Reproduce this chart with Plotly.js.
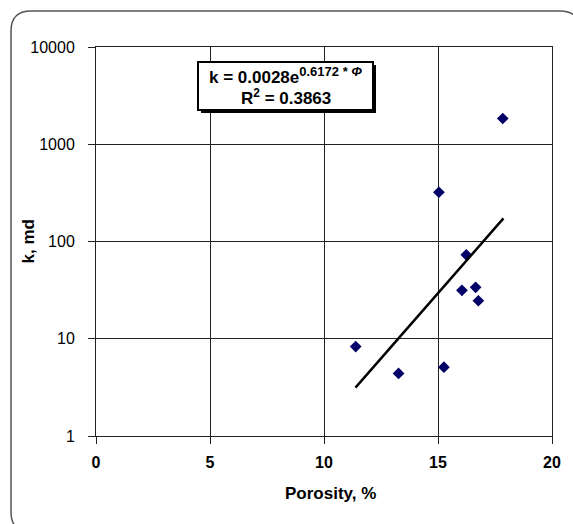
<!DOCTYPE html>
<html>
<head>
<meta charset="utf-8">
<script src="https://cdn.plot.ly/plotly-3.0.1.min.js"></script>
<style>html,body{margin:0;padding:0;background:#fff;}#chart{width:573px;height:524px;}</style>
</head>
<body>
<div id="chart"></div>
<script>
// Data
const porosity = [17.84, 15.04, 16.24, 16.05, 16.65, 16.77, 11.39, 13.27, 15.26];
const permeability = [1840, 321, 73, 31.5, 33.8, 24.6, 8.3, 4.4, 5.1];
const trendX = [11.38, 17.87];
const trendY = [3.14, 173];
const xTicks = [0, 5, 10, 15, 20];
const yTicks = [1, 10, 100, 1000, 10000];
const yTickText = ['1', '10', '100', '1000', '10000'];
const xTitle = 'Porosity, %';
const yTitle = 'k, md';
const eqLine1 = 'k = 0.0028e<sup><span style="font-size:13px">0.6172 * <i>Φ</i></span></sup>';
const eqLine2 = 'R<sup>2</sup> = 0.3863';

const W = 573, H = 524;
const M = {l: 96, r: 21, t: 47, b: 88};
const PW = W - M.l - M.r, PH = H - M.t - M.b;
const px = X => (X - M.l) / PW;
const py = Y => (H - M.b - Y) / PH;

function roundRectPath(x0, y0, x1, y1, r) {
  const P = (X, Y) => px(X) + ',' + py(Y);
  return 'M' + P(x0 + r, y0) + ' L' + P(x1 - r, y0) +
    ' Q' + P(x1, y0) + ' ' + P(x1, y0 + r) +
    ' L' + P(x1, y1 - r) + ' Q' + P(x1, y1) + ' ' + P(x1 - r, y1) +
    ' L' + P(x0 + r, y1) + ' Q' + P(x0, y1) + ' ' + P(x0, y1 - r) +
    ' L' + P(x0, y0 + r) + ' Q' + P(x0, y0) + ' ' + P(x0 + r, y0) + ' Z';
}

const font = 'Arial, "Liberation Sans", sans-serif';

const traces = [
  {
    x: porosity, y: permeability, type: 'scatter', mode: 'markers',
    marker: {symbol: 'diamond', size: 9, color: '#000066'},
    hoverinfo: 'x+y', showlegend: false
  },
  {
    x: trendX, y: trendY, type: 'scatter', mode: 'lines',
    line: {color: '#000', width: 2.5}, hoverinfo: 'skip', showlegend: false
  }
];

const boxL = 198, boxT = 62, boxR = 373, boxB = 110;

const layout = {
  width: W, height: H,
  margin: M,
  paper_bgcolor: '#fff', plot_bgcolor: '#fff',
  font: {family: font, color: '#000', size: 16},
  xaxis: {
    range: [0, 20], tickvals: xTicks, ticks: 'outside', ticklen: 7, tickcolor: '#222',
    ticklabelstandoff: 5,
    showline: true, linecolor: '#222', linewidth: 1, mirror: true,
    showgrid: true, gridcolor: '#222', gridwidth: 1, zeroline: false,
    tickfont: {family: font, size: 16, color: '#000', weight: 'bold'}
  },
  yaxis: {
    type: 'log', range: [0, 4], tickvals: yTicks, ticktext: yTickText,
    ticks: 'outside', ticklen: 7, tickcolor: '#222', ticklabelstandoff: 10,
    showline: true, linecolor: '#222', linewidth: 1, mirror: true,
    showgrid: true, gridcolor: '#222', gridwidth: 1, zeroline: false,
    tickfont: {family: font, size: 16, color: '#000'}
  },
  shapes: [
    {type: 'path', xref: 'paper', yref: 'paper', path: roundRectPath(11, 11, 580, 532, 20),
     line: {color: '#555', width: 1.5}, fillcolor: 'rgba(0,0,0,0)', layer: 'below'},
    {type: 'rect', xref: 'paper', yref: 'paper', x0: px(boxL + 3), x1: px(boxR + 3), y0: py(boxB + 3), y1: py(boxT + 3),
     line: {width: 0}, fillcolor: '#000', layer: 'above'},
    {type: 'rect', xref: 'paper', yref: 'paper', x0: px(boxL), x1: px(boxR), y0: py(boxB), y1: py(boxT),
     line: {color: '#000', width: 2}, fillcolor: '#fff', layer: 'above'}
  ],
  annotations: [
    {xref: 'paper', yref: 'paper', x: px(330), y: py(493), text: '<b>' + xTitle + '</b>',
     showarrow: false, font: {family: font, size: 17, color: '#000'}, xanchor: 'center', yanchor: 'middle'},
    {xref: 'paper', yref: 'paper', x: px(28), y: py(241.5), text: '<b>' + yTitle + '</b>', textangle: -90,
     showarrow: false, font: {family: font, size: 17, color: '#000'}, xanchor: 'center', yanchor: 'middle'},
    {xref: 'paper', yref: 'paper', x: px((boxL + boxR) / 2), y: py(76), text: '<b>' + eqLine1 + '</b>',
     showarrow: false, font: {family: font, size: 17, color: '#000'}, xanchor: 'center', yanchor: 'middle'},
    {xref: 'paper', yref: 'paper', x: px((boxL + boxR) / 2), y: py(97), text: '<b>' + eqLine2 + '</b>',
     showarrow: false, font: {family: font, size: 17, color: '#000'}, xanchor: 'center', yanchor: 'middle'}
  ]
};

Plotly.newPlot('chart', traces, layout, {displayModeBar: false, staticPlot: true});
</script>
</body>
</html>
